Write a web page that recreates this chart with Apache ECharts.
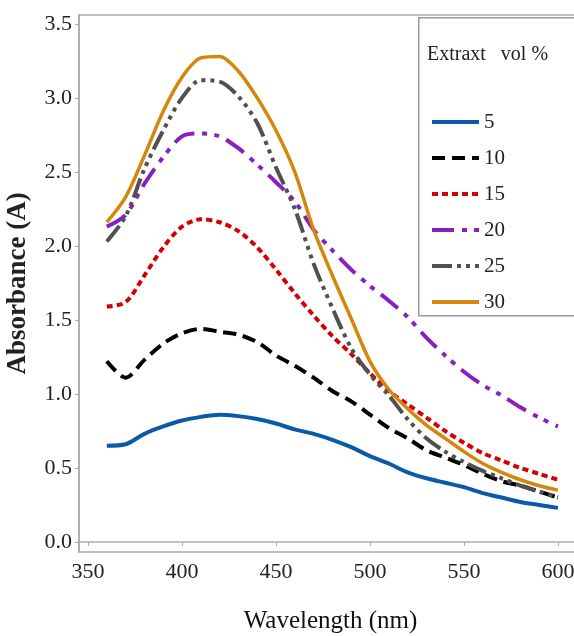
<!DOCTYPE html>
<html>
<head>
<meta charset="utf-8">
<script src="https://cdn.jsdelivr.net/npm/echarts@6/dist/echarts.min.js"></script>
<style>html,body{margin:0;padding:0;background:#fff}#c{width:574px;height:636px}</style>
</head>
<body>
<div id="c"></div>
<script>
const wavelengths = [360,370,380,390,400,410,420,430,440,450,460,470,480,490,500,510,520,530,540,550,560,570,580,590,600];
const seriesNames = ['5','10','15','20','25','30'];
const s5  = [0.65,0.66,0.73,0.78,0.82,0.845,0.86,0.85,0.83,0.80,0.76,0.73,0.69,0.64,0.58,0.53,0.47,0.43,0.40,0.37,0.33,0.30,0.27,0.25,0.23];
const s10 = [1.22,1.11,1.23,1.34,1.41,1.44,1.42,1.40,1.35,1.26,1.19,1.11,1.02,0.95,0.86,0.77,0.70,0.62,0.57,0.52,0.46,0.41,0.38,0.34,0.30];
const s15 = [1.59,1.62,1.80,1.99,2.13,2.18,2.16,2.10,1.99,1.84,1.68,1.53,1.39,1.27,1.14,1.02,0.93,0.84,0.75,0.67,0.60,0.55,0.50,0.46,0.42];
const s20 = [2.13,2.21,2.42,2.60,2.74,2.76,2.74,2.66,2.55,2.43,2.30,2.11,1.97,1.84,1.73,1.63,1.52,1.38,1.26,1.15,1.06,0.99,0.91,0.84,0.78];
const s25 = [2.03,2.20,2.52,2.78,3.00,3.12,3.11,3.01,2.83,2.53,2.25,1.88,1.58,1.31,1.13,0.99,0.83,0.70,0.61,0.54,0.48,0.43,0.38,0.34,0.30];
const s30 = [2.16,2.33,2.61,2.91,3.14,3.27,3.28,3.18,3.00,2.78,2.50,2.11,1.80,1.51,1.22,1.03,0.90,0.79,0.70,0.61,0.53,0.47,0.42,0.38,0.35];
const xTicks = [350,400,450,500,550,600];
const yTicks = [0,0.5,1,1.5,2,2.5,3,3.5];

const allValues = [s5,s10,s15,s20,s25,s30];
const colors = ['#0a5aa8','#000000','#d40000','#8a1fc0','#505050','#d4870c'];
const dashes = ['solid',[13,7],[6,4],[22,8,5,7,5,8],[20,5,4,5,4,5,4,5],'solid'];
const widths = [4,4,4,4,4,3.5];

const serif = 'Liberation Serif, Times New Roman, serif';
const chart = echarts.init(document.getElementById('c'), null, {renderer:'canvas'});

const series = allValues.map((vals,i)=>({
  name: seriesNames[i],
  type: 'line',
  data: wavelengths.map((w,j)=>[w,vals[j]]),
  smooth: 0.3,
  symbol: 'none',
  color: colors[i],
  lineStyle: {color: colors[i], width: widths[i], type: dashes[i], cap:'butt'},
  z: 2 + i
}));

chart.setOption({
  animation: false,
  backgroundColor: '#fff',
  grid: {left: 79, right: -8, top: 15, bottom: 84, show: true, borderColor: '#aaaaaa', borderWidth: 1.5,
         containLabel: false, outerBoundsMode: 'none'},
  xAxis: {
    type: 'value', min: 345.2, max: 612.8,
    name: 'Wavelength (nm)', nameLocation: 'middle', nameGap: 57,
    nameTextStyle: {fontFamily: serif, fontSize: 25, color: '#111'},
    axisLine: {show: true, lineStyle: {color: '#aaaaaa', width: 1.5}},
    axisTick: {show: true, inside: false, length: 4, lineStyle: {color: '#aaaaaa'}, customValues: xTicks},
    axisLabel: {fontFamily: serif, fontSize: 22, color: '#222', margin: 9, customValues: xTicks},
    splitLine: {show: false}
  },
  yAxis: {
    type: 'value', min: -0.068, max: 3.56,
    name: 'Absorbance (A)', nameLocation: 'middle', nameGap: 47, nameRotate: 90,
    nameTextStyle: {fontFamily: serif, fontSize: 27, fontWeight: 'bold', color: '#222'},
    axisLine: {show: true, lineStyle: {color: '#aaaaaa', width: 1.5}},
    axisTick: {show: true, inside: false, length: 4, lineStyle: {color: '#aaaaaa'}, customValues: yTicks},
    axisLabel: {fontFamily: serif, fontSize: 22, color: '#222', margin: 7, customValues: yTicks,
      formatter: v => Number(v).toFixed(1)},
    splitLine: {show: false}
  },
  legend: {
    orient: 'vertical', left: 425, top: 106,
    itemWidth: 47, itemHeight: 14, itemGap: 14,
    data: seriesNames,
    itemStyle: {opacity: 0},
    lineStyle: {width: 4},
    textStyle: {fontFamily: serif, fontSize: 21, color: '#222', lineHeight: 22},
    z: 20
  },
  graphic: [
    {type: 'rect', left: 418, top: 17, z: 15, shape: {width: 170, height: 298},
     style: {fill: '#fff', stroke: '#999', lineWidth: 1.5}},
    {type: 'text', left: 427, top: 45, z: 16,
     style: {text: 'Extraxt   vol %', font: '20px ' + serif, fill: '#222'}}
  ],
  series: series
});
</script>
</body>
</html>
